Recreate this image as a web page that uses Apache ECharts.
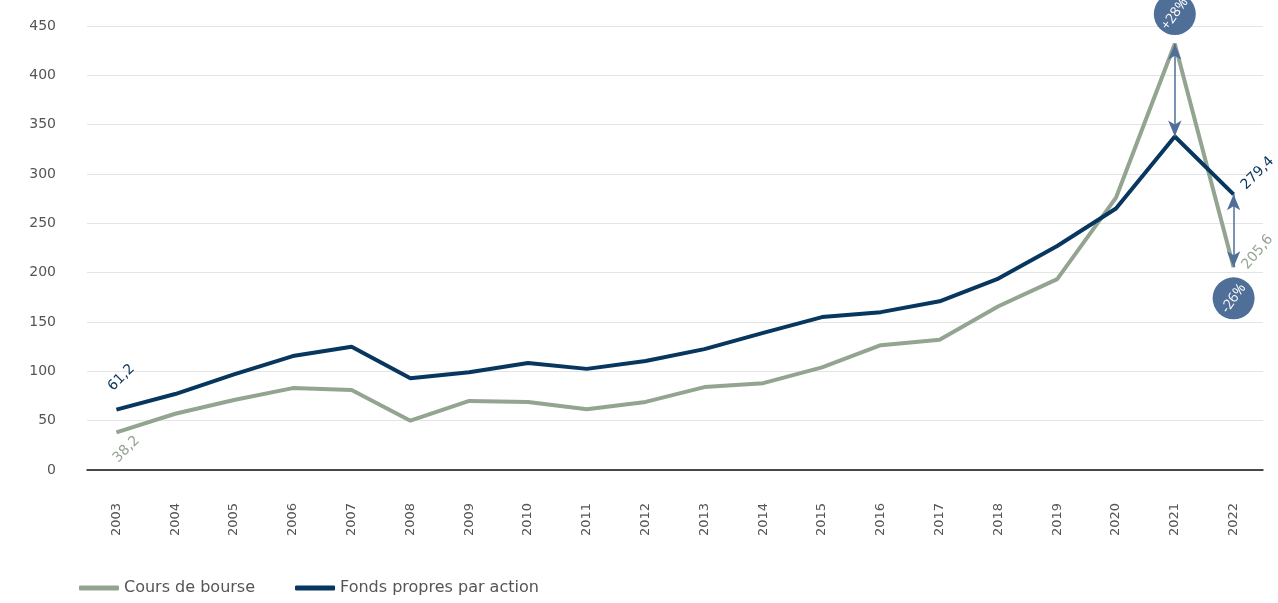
<!DOCTYPE html>
<html>
<head>
<meta charset="utf-8">
<script src="https://cdn.jsdelivr.net/npm/echarts@6/dist/echarts.min.js"></script>
<style>
  html, body { margin: 0; padding: 0; background: #fff; }
  #chart { width: 1278px; height: 603px; }
</style>
</head>
<body>
<div id="chart"></div>
<script>
const years = ['2003', '2004', '2005', '2006', '2007', '2008', '2009', '2010', '2011', '2012',
  '2013', '2014', '2015', '2016', '2017', '2018', '2019', '2020', '2021', '2022'];
const cours = [38.2, 57, 71, 83, 81, 50, 70, 69, 61.5, 69, 84, 88, 104, 126.5, 132, 166, 193.5, 276, 432, 205.6];
const fonds = [61.2, 77, 97, 115.5, 125, 93, 99, 108.5, 102.5, 110.5, 122.5, 139, 155, 160, 171, 194, 227, 265, 338, 279.4];
const yTicks = [0, 50, 100, 150, 200, 250, 300, 350, 400, 450];
// gap annotations: [year, percent label, bubble value]
const gaps = [['2021', '+28%', 450], ['2022', '-26%', 174]];

const green = '#93a491';
const navy = '#07365f';
const steel = '#4f6f98';
const font = 'DejaVu Sans';

function fmt(v) {
  return String(v).replace('.', ',');
}

function labelled(arr, idx, opts) {
  return arr.map((v, i) => {
    if (!idx.includes(i)) return v;
    return {
      value: v,
      label: Object.assign({
        show: true, formatter: fmt(v), fontFamily: font, fontSize: 14,
        align: 'center', verticalAlign: 'middle', rotate: 45
      }, opts[idx.indexOf(i)])
    };
  });
}

const last = years.length - 1;
const coursData = labelled(cours, [0, last], [
  {position: [10, 17], color: green},
  {position: [24, -15], rotate: 50, color: green}
]);
const fondsData = labelled(fonds, [0, last], [
  {position: [5, -32], color: navy},
  {position: [24, -21], color: navy}
]);

const arrowLines = gaps.map(g => {
  const i = years.indexOf(g[0]);
  return [{coord: [g[0], fonds[i]]}, {coord: [g[0], cours[i]]}];
});
const bubbles = gaps.map((g, k) => ({
  coord: [g[0], g[2]],
  value: g[1],
  symbolOffset: k === 0 ? [0, -12] : [0, 0],
  label: {formatter: g[1]}
}));

const chart = echarts.init(document.getElementById('chart'));
chart.setOption({
  animation: false,
  textStyle: {fontFamily: font},
  grid: {left: 87, right: 15, top: 26, bottom: 133},
  legend: {
    left: 74,
    bottom: 2,
    icon: 'roundRect',
    itemWidth: 40,
    itemHeight: 5,
    itemGap: 40,
    textStyle: {fontSize: 16, color: '#555', fontFamily: font},
    data: ['Cours de bourse', 'Fonds propres par action']
  },
  xAxis: {
    type: 'category',
    data: years,
    boundaryGap: true,
    axisLine: {lineStyle: {color: '#111', width: 1.5}},
    axisTick: {show: false},
    axisLabel: {rotate: 90, margin: 33, fontSize: 13, color: '#555', fontFamily: font}
  },
  yAxis: {
    type: 'value',
    min: yTicks[0],
    max: yTicks[yTicks.length - 1],
    interval: 50,
    axisLine: {show: false},
    axisTick: {show: false},
    axisLabel: {margin: 31, fontSize: 14, color: '#555', fontFamily: font},
    splitLine: {lineStyle: {color: '#e4e4e4', width: 1}}
  },
  series: [
    {
      name: 'Cours de bourse',
      type: 'line',
      data: coursData,
      symbol: 'circle',
      symbolSize: 0,
      showSymbol: true,
      lineStyle: {color: green, width: 4},
      itemStyle: {color: green},
      z: 2
    },
    {
      name: 'Fonds propres par action',
      type: 'line',
      data: fondsData,
      symbol: 'circle',
      symbolSize: 0,
      showSymbol: true,
      clip: false,
      lineStyle: {color: navy, width: 4},
      itemStyle: {color: navy},
      z: 3,
      markLine: {
        silent: true,
        symbol: ['arrow', 'arrow'],
        symbolSize: [10, 16],
        label: {show: false},
        lineStyle: {color: steel, width: 1.5, type: 'solid'},
        data: arrowLines
      },
      markPoint: {
        silent: true,
        symbol: 'circle',
        symbolSize: 42,
        itemStyle: {color: steel},
        label: {show: true, position: 'inside', color: '#fff', fontSize: 14, rotate: 55, fontFamily: 'Open Sans'},
        data: bubbles
      }
    }
  ]
});
</script>
</body>
</html>
